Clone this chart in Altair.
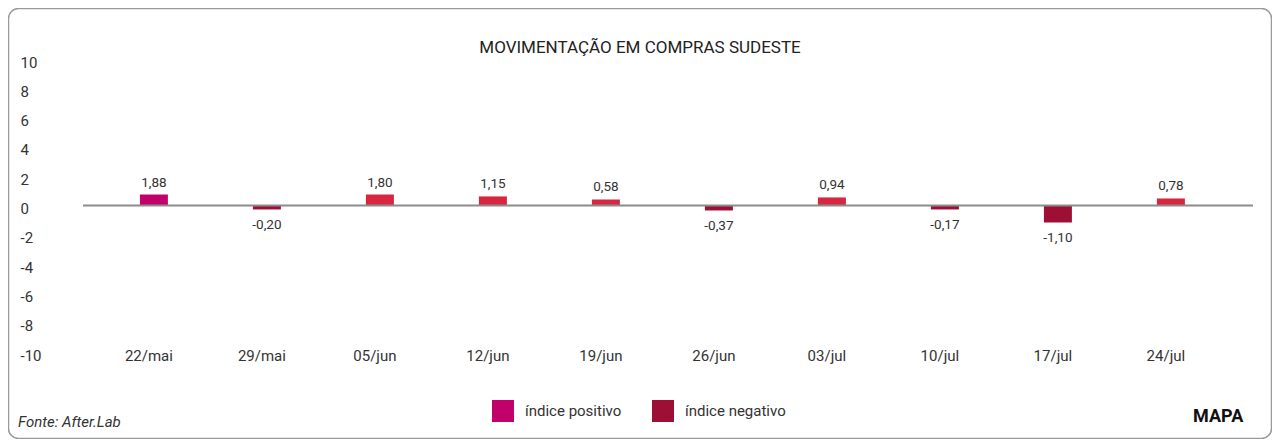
import altair as alt
import pandas as pd

# ---- data ----
datas = ["22/mai", "29/mai", "05/jun", "12/jun", "19/jun",
         "26/jun", "03/jul", "10/jul", "17/jul", "24/jul"]
rotulos = ["1,88", "-0,20", "1,80", "1,15", "0,58",
           "-0,37", "0,94", "-0,17", "-1,10", "0,78"]
# bar heights as drawn in the picture (axis units)
altura = [0.75, -0.27, 0.75, 0.62, 0.41, -0.34, 0.55, -0.27, -1.16, 0.48]
tipo = ["índice positivo", "índice negativo", "positivo (demais)", "positivo (demais)",
        "positivo (demais)", "índice negativo", "positivo (demais)", "índice negativo",
        "índice negativo", "positivo (demais)"]
y_ticks = [-10, -8, -6, -4, -2, 0, 2, 4, 6, 8, 10]

df = pd.DataFrame({"data": datas, "rotulo": rotulos, "altura": altura, "tipo": tipo})
zero_df = pd.DataFrame({"altura": [0]})
one = pd.DataFrame({"a": [0]})

FONT = "Roboto"
TXT = "#333333"

x_enc = alt.X("data:N", sort=datas,
              scale=alt.Scale(paddingInner=0, paddingOuter=0.177, align=0.36),
              axis=alt.Axis(title=None, labelAngle=0, domain=False, ticks=False, tickSize=0,
                            labelPadding=0, labelBaseline="middle", labelFontSize=15,
                            labelColor=TXT, labelFont=FONT, labelOffset=-5))
y_enc = alt.Y("altura:Q",
              scale=alt.Scale(domain=[-10, 10], nice=False),
              axis=alt.Axis(title=None, values=y_ticks, grid=False, domain=False, ticks=False,
                            tickSize=0, labelAlign="left", labelPadding=63, labelFontSize=15,
                            labelColor=TXT, labelFont=FONT, labelExpr="datum.value + ''"))

bars = alt.Chart(df).mark_bar(size=28, yOffset=-3).encode(
    x=x_enc, y=y_enc,
    color=alt.Color("tipo:N",
                    scale=alt.Scale(domain=["índice positivo", "índice negativo", "positivo (demais)"],
                                    range=["#c2006b", "#9e0f36", "#d82540"]),
                    legend=alt.Legend(title=None, orient="none", legendX=409, legendY=338,
                                      direction="horizontal", symbolType="square", symbolSize=484,
                                      symbolStrokeWidth=0, symbolOpacity=1, labelFontSize=15,
                                      labelFont=FONT, labelColor=TXT, labelOffset=11,
                                      columnPadding=30,
                                      values=["índice positivo", "índice negativo"])))

zero_line = alt.Chart(zero_df).mark_rule(color="#8c8c8c", strokeWidth=2, yOffset=-3).encode(y=y_enc)

lab_pos = alt.Chart(df).transform_filter("datum.altura > 0").mark_text(
    dy=-15, baseline="middle", fontSize=13.5, font=FONT, color=TXT).encode(
    x=x_enc, y=y_enc, text="rotulo:N")
lab_neg = alt.Chart(df).transform_filter("datum.altura < 0").mark_text(
    dy=13, baseline="middle", fontSize=13.5, font=FONT, color=TXT).encode(
    x=x_enc, y=y_enc, text="rotulo:N")

title = alt.Chart(one).mark_text(fontSize=17, font=FONT, color="#222222",
                                 align="center", baseline="middle").encode(
    x=alt.value(557), y=alt.value(-14), text=alt.value("MOVIMENTAÇÃO EM COMPRAS SUDESTE"))

fonte = alt.Chart(one).mark_text(fontSize=15, font=FONT, fontStyle="italic", color=TXT,
                                 align="left", baseline="middle").encode(
    x=alt.value(-65), y=alt.value(360), text=alt.value("Fonte: After.Lab"))

mapa = alt.Chart(one).mark_text(fontSize=18, font=FONT, fontWeight="bold", color="#111111",
                                align="left", baseline="middle").encode(
    x=alt.value(1110), y=alt.value(355), text=alt.value("MAPA"))

frame = alt.Chart(one).mark_rect(fillOpacity=0, stroke="#9a9a9a", strokeWidth=1.5,
                                 cornerRadius=10).encode(
    x=alt.value(-74.5), x2=alt.value(1188.5), y=alt.value(-53.5), y2=alt.value(376.5))

chart = alt.layer(frame, bars, zero_line, lab_pos, lab_neg, title, fonte, mapa).properties(
    width=1170, height=293,
    padding={"left": 75, "top": 54, "right": 19, "bottom": 84},
    autosize=alt.AutoSizeParams(type="none"),
    background="white",
).configure_view(stroke=None)

chart.save("out.html", embed_options={"renderer": "svg", "actions": False})
